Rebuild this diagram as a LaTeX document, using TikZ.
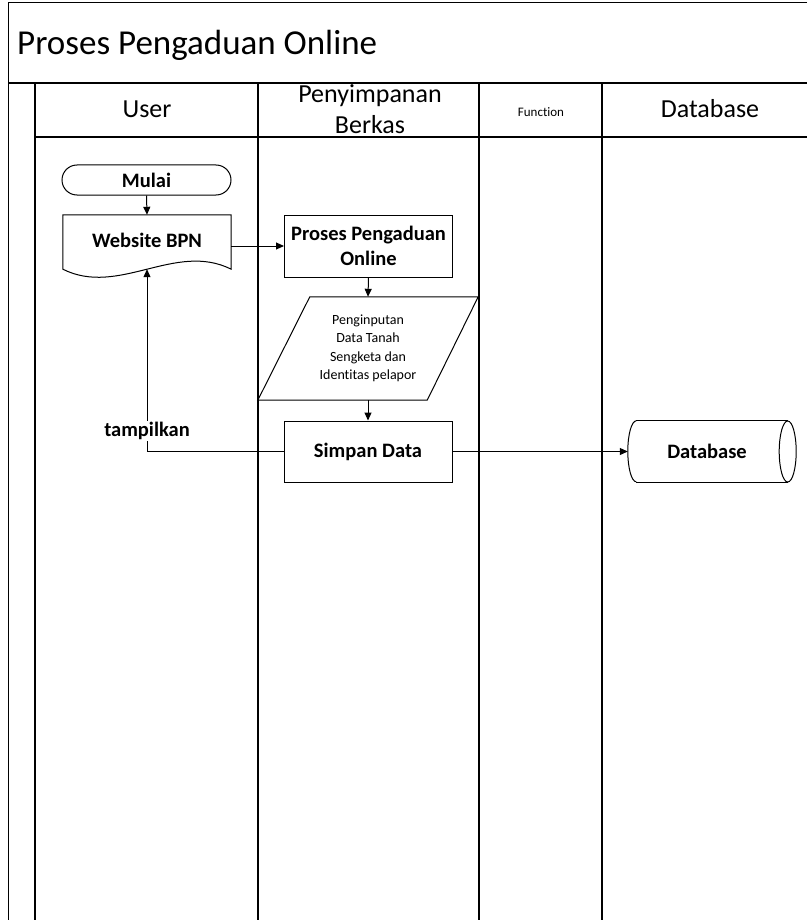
\documentclass[tikz,border=0pt]{standalone}
\usepackage{fontspec}
\setmainfont{Carlito}[Ligatures=CommonOff]
\usetikzlibrary{arrows.meta,shapes.misc,calc}
\begin{document}
\begin{tikzpicture}[x=1pt,y=-1pt,
  lane/.style={line width=1.3pt},
  shp/.style={line width=1pt},
  boxed/.style={draw, line width=1pt, minimum width=168pt, minimum height=61pt, inner sep=0pt, align=center},
  bold/.style={font=\fontsize{20.5}{24.5}\selectfont\bfseries},
  small/.style={font=\fontsize{14}{18.5}\selectfont},
  head/.style={font=\fontsize{26}{31}\selectfont, inner sep=0pt, anchor=base},
  arr/.style={line width=1pt, -{Triangle[length=8pt,width=7pt]}}]
\useasboundingbox (0,0) rectangle (807,920);

% frame and lanes
\draw[lane] (807,2.5) -- (8.5,2.5) -- (8.5,920);
\draw[lane] (8.5,83) -- (807,83);
\draw[lane] (35,137) -- (807,137);
\foreach \x in {35,258,479,602} \draw[lane] (\x,83) -- (\x,920);

% title and headers
\node[anchor=base west, font=\fontsize{35}{40}\selectfont, inner sep=0pt] (title) at (17,55) {Proses Pengaduan Online};
\node[head] (huser) at (147,118) {User};
\node[head] (hpen1) at (370,103) {Penyimpanan};
\node[head] (hpen2) at (370,134) {Berkas};
\node[head, font=\fontsize{13}{15}\selectfont] (hfun) at (541,117) {Function};
\node[head] (hdb) at (710,118) {Database};

% shapes
\node[draw, shp, rounded rectangle, minimum width=169pt, minimum height=30pt, inner sep=0pt, bold] (mulai) at (146.5,180) {Mulai};

\node[minimum width=168pt, minimum height=54pt, inner sep=0pt] (web) at (147,242) {};
\draw[shp] (web.north west) -- (web.north east) -- (web.south east)
  .. controls ($(web.south east)+(-56,-28)$) and ($(web.south west)+(56,28)$) .. (web.south west) -- cycle;
\node[bold] (webt) at (147,240) {Website BPN};

\node[boxed, bold, minimum height=62pt] (proc) at (368.5,246) {Proses Pengaduan\\Online};

\node[minimum width=220pt, minimum height=103pt, inner sep=0pt, small, align=center] (inp) at (368,348.5) {Penginputan\\Data Tanah\\Sengketa dan\\Identitas pelapor};
\draw[shp] ($(inp.north west)+(52,0)$) -- (inp.north east) -- ($(inp.south east)+(-51,0)$) -- (inp.south west) -- cycle;

\node[boxed, bold] (simpan) at (368,451.5) {Simpan Data};

\node[minimum width=168pt, minimum height=61pt, inner sep=0pt] (db) at (712,451.5) {};
\draw[shp] ($(db.north west)+(8.5,0)$) -- ($(db.north east)+(-8.5,0)$);
\draw[shp] ($(db.south west)+(8.5,0)$) -- ($(db.south east)+(-8.5,0)$);
\draw[shp] ($(db.east)+(-8.5,0)$) ellipse [x radius=8.5pt, y radius=30.5pt];
\draw[shp] ($(db.north west)+(8.5,0)$) arc [start angle=90, end angle=270, x radius=8.5pt, y radius=30.5pt];
\node[bold] (dbt) at (707,451.5) {Database};

% connectors
\draw[arr] (mulai.south) -- (web.north);
\draw[arr] (web.east |- proc.west) -- (proc.west);
\draw[arr] (proc.south) -- (inp.north);
\draw[arr] (inp.south) -- (simpan.north);
\draw[arr] (simpan.east) -- (db.west);
\draw[arr] (simpan.west) -| (web.south);
\node[bold, fill=white, inner sep=1pt] (tamp) at (147,431) {tampilkan};
\end{tikzpicture}
\end{document}
